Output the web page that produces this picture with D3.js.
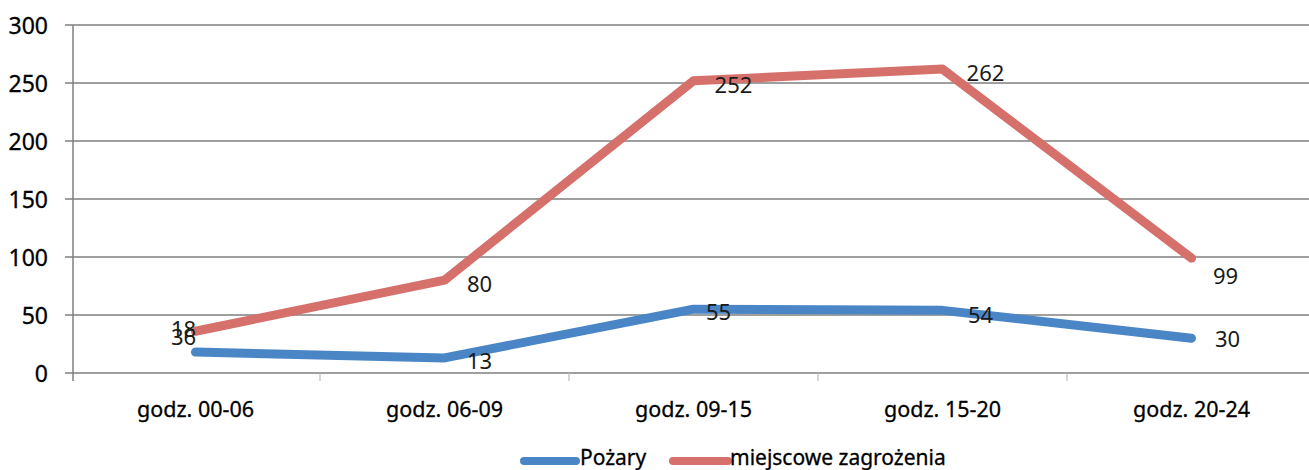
<!DOCTYPE html>
<html>
<head>
<meta charset="utf-8">
<script src="https://cdn.jsdelivr.net/npm/d3@7"></script>
<style>
	body { margin: 0; background: #fff; }
	svg { display: block; font-family: 'Noto Sans', sans-serif; }
</style>
</head>
<body>
<div id="chart"></div>
<script>
const categories = ['godz. 00-06', 'godz. 06-09', 'godz. 09-15', 'godz. 15-20', 'godz. 20-24'];
const pozary = [18, 13, 55, 54, 30];
const zagrozenia = [36, 80, 252, 262, 99];
const yTicks = [0, 50, 100, 150, 200, 250, 300];

const series = [
	{ name: 'Pożary', values: pozary, color: '#4a86c6',
		// label offsets from the point, as the scan shows them
		labelOffset: [[-12, -24], [35, 2], [25, 2], [38, 4], [36, 0]] },
	{ name: 'miejscowe zagrożenia', values: zagrozenia, color: '#d6706b',
		labelOffset: [[-12, 5], [35, 3], [40, 3], [43, 3], [34, 17]] }
];

const width = 1309, height = 470;
const svg = d3.select('#chart').append('svg')
	.attr('width', width)
	.attr('height', height);

const x = d3.scaleBand().domain(categories).range([71, 1316]).padding(0);
const y = d3.scaleLinear().domain([0, 300]).range([373, 25]);
const cx = d => x(d) + x.bandwidth() / 2;

// grid
svg.append('g').selectAll('line').data(yTicks).join('line')
	.attr('x1', 65).attr('x2', width)
	.attr('y1', d => y(d)).attr('y2', d => y(d))
	.attr('stroke', '#7f7f7f').attr('stroke-width', 1.5);

// y axis line
svg.append('line')
	.attr('x1', 73).attr('x2', 73)
	.attr('y1', y(300)).attr('y2', y(0) + 8)
	.attr('stroke', '#7f7f7f').attr('stroke-width', 1.5);

// x ticks at band boundaries
svg.append('g').selectAll('line').data(categories.slice(1)).join('line')
	.attr('x1', d => x(d)).attr('x2', d => x(d))
	.attr('y1', y(0)).attr('y2', y(0) + 8)
	.attr('stroke', '#bbb').attr('stroke-width', 1.2);

// y tick labels
svg.append('g').selectAll('text').data(yTicks).join('text')
	.attr('x', 48).attr('y', d => y(d))
	.attr('text-anchor', 'end').attr('dominant-baseline', 'central')
	.attr('font-size', 23).attr('fill', '#000')
	.attr('stroke', '#000').attr('stroke-width', 0.3)
	.text(d => d);

// category labels
svg.append('g').selectAll('text').data(categories).join('text')
	.attr('x', d => cx(d)).attr('y', 417)
	.attr('text-anchor', 'middle')
	.attr('font-size', 21.5).attr('fill', '#000')
	.attr('stroke', '#000').attr('stroke-width', 0.3)
	.text(d => d);

const line = d3.line()
	.x((d, i) => cx(categories[i]))
	.y(d => y(d));

series.forEach(s => {
	svg.append('path')
		.datum(s.values)
		.attr('d', line)
		.attr('fill', 'none')
		.attr('stroke', s.color)
		.attr('stroke-width', 9)
		.attr('stroke-linecap', 'round')
		.attr('stroke-linejoin', 'round');
});

series.forEach(s => {
	svg.append('g').selectAll('text').data(s.values).join('text')
		.attr('x', (d, i) => cx(categories[i]) + s.labelOffset[i][0])
		.attr('y', (d, i) => y(d) + s.labelOffset[i][1])
		.attr('text-anchor', 'middle').attr('dominant-baseline', 'central')
		.attr('font-size', 22).attr('fill', '#1a1a1a')
		.text(d => d);
});

// legend
const legend = svg.append('g');
const legendItems = [
	{ s: series[0], x1: 524, x2: 576, tx: 580 },
	{ s: series[1], x1: 673, x2: 728, tx: 730 }
];
legendItems.forEach(it => {
	legend.append('line')
		.attr('x1', it.x1).attr('x2', it.x2)
		.attr('y1', 461).attr('y2', 461)
		.attr('stroke', it.s.color).attr('stroke-width', 8)
		.attr('stroke-linecap', 'round');
	legend.append('text')
		.attr('x', it.tx).attr('y', 465)
		.attr('font-size', 21).attr('fill', '#000')
		.attr('stroke', '#000').attr('stroke-width', 0.3)
		.text(it.s.name);
});
</script>
</body>
</html>
